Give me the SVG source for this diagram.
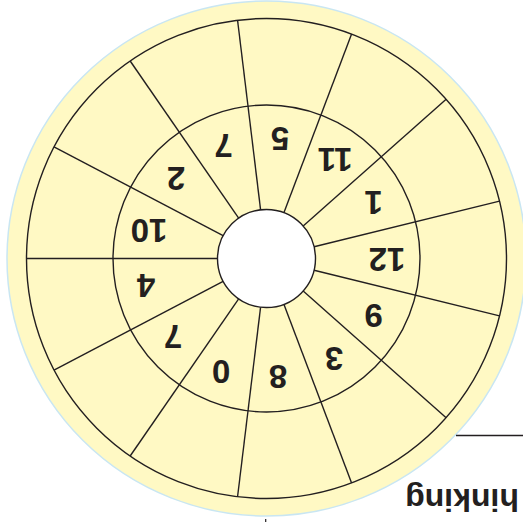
<svg xmlns="http://www.w3.org/2000/svg" width="523" height="522" viewBox="0 0 523 522">
<style>
.ring{fill:none;stroke:#231f20;stroke-width:1.4}
.spk{stroke:#231f20;stroke-width:1.4;fill:none}
.num{font-family:"Liberation Sans",Arial,sans-serif;font-weight:bold;font-size:33px;fill:#231f20;text-anchor:middle}
.lbl{font-family:"Liberation Sans",Arial,sans-serif;font-weight:bold;font-size:32px;fill:#231f20;text-anchor:middle}
</style>
<rect width="523" height="522" fill="#ffffff"/>
<g id="wheel">
<ellipse cx="266.5" cy="258.5" rx="259.5" ry="257.5" fill="#fff9c4" stroke="#c9e6f2" stroke-width="1.5"/>
<circle class="ring" cx="266.5" cy="258.5" r="240"/>
<circle class="ring" cx="266.5" cy="258.5" r="153.5"/>
</g>
<g id="spokes">
<line class="spk" x1="217.5" y1="258.5" x2="26.5" y2="258.5"/>
<line class="spk" x1="223.11" y1="235.73" x2="53.99" y2="146.97"/>
<line class="spk" x1="238.66" y1="218.17" x2="130.17" y2="60.98"/>
<line class="spk" x1="260.59" y1="209.86" x2="237.57" y2="20.25"/>
<line class="spk" x1="283.88" y1="212.68" x2="351.60" y2="34.10"/>
<line class="spk" x1="303.18" y1="226.01" x2="446.14" y2="99.35"/>
<line class="spk" x1="314.08" y1="246.77" x2="499.53" y2="201.06"/>
<line class="spk" x1="314.08" y1="270.23" x2="499.53" y2="315.94"/>
<line class="spk" x1="303.18" y1="290.99" x2="446.14" y2="417.65"/>
<line class="spk" x1="283.88" y1="304.32" x2="351.60" y2="482.90"/>
<line class="spk" x1="260.59" y1="307.14" x2="237.57" y2="496.75"/>
<line class="spk" x1="238.66" y1="298.83" x2="130.17" y2="456.02"/>
<line class="spk" x1="223.11" y1="281.27" x2="53.99" y2="370.03"/>
</g>
<g id="hub">
<circle cx="266.5" cy="258.5" r="49" fill="#ffffff" stroke="#231f20" stroke-width="1.4"/>
</g>
<g id="numbers">
<text class="num" transform="translate(149,230.5) rotate(180)" y="11.8">10</text>
<text class="num" transform="translate(176,179) rotate(180)" y="11.8">2</text>
<text class="num" transform="translate(223.5,146) rotate(180)" y="11.8">7</text>
<text class="num" transform="translate(280,139) rotate(180)" y="11.8">5</text>
<text class="num" transform="translate(335,159.5) rotate(180)" y="11.8">11</text>
<text class="num" transform="translate(373.5,203) rotate(180)" y="11.8">1</text>
<text class="num" transform="translate(387,260) rotate(180)" y="11.8">12</text>
<text class="num" transform="translate(373.5,316) rotate(180)" y="11.8">9</text>
<text class="num" transform="translate(334,359) rotate(180)" y="11.8">3</text>
<text class="num" transform="translate(278,377) rotate(180)" y="11.8">8</text>
<text class="num" transform="translate(221,372) rotate(180)" y="11.8">0</text>
<text class="num" transform="translate(173,337) rotate(180)" y="11.8">7</text>
<text class="num" transform="translate(146,286) rotate(180)" y="11.8">4</text>
</g>
<g id="page">
<line x1="456" y1="435.5" x2="523" y2="435.5" stroke="#231f20" stroke-width="1.4"/>
<line x1="265.7" y1="519" x2="265.7" y2="522" stroke="#231f20" stroke-width="1.2"/>
<text class="lbl" transform="translate(462,488.5) rotate(180)">hinking</text>
</g>
</svg>
